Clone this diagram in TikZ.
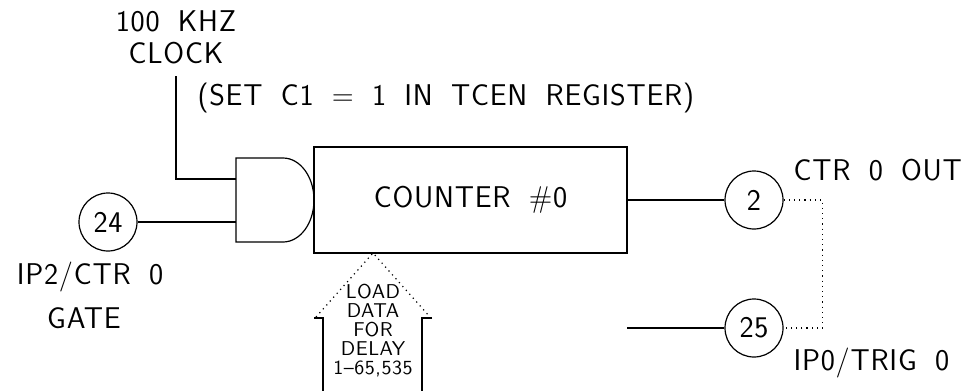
\documentclass[tikz,border=0pt]{standalone}
\usepackage{fontspec}
\setsansfont{Latin Modern Sans}[WordSpace=1.8,LetterSpace=2.5]
\usepackage{tikz}
\usetikzlibrary{positioning}

\begin{document}
\begin{tikzpicture}[x=0.5pt, y=-0.5pt, line width=0.6pt, font=\sffamily\fontsize{15}{16}\selectfont,
  pin/.style={draw,circle,minimum size=29pt,inner sep=0pt},
  lbl/.style={inner sep=0pt}]
  \useasboundingbox (0,0) rectangle (967,391);
  \node[draw,minimum width=156.5pt,minimum height=53pt] (cnt) at (470.5,200) {COUNTER \#0};
  \coordinate (gin1) at (236,179);
  \coordinate (gin2) at (236,222);
  \draw (236,158) -- (283,158) arc[start angle=-90,end angle=90,x radius=31,y radius=42] -- (236,242) -- cycle;

  \node[pin] (p24) at (108,222) {24};
  \node[pin] (p2) at (754,200) {2};
  \node[pin] (p25) at (754,328) {25};

  \node[lbl,align=center] (clk) at (176,37) {100 KHZ\\CLOCK};
  \node[lbl,anchor=west] (tcen) at (197,98) {(SET C1 = 1 IN TCEN REGISTER)};
  \node[lbl,anchor=west] (out) at (793,170) {CTR 0 OUT};
  \node[lbl,anchor=west] (trig) at (793,363) {IP0/TRIG 0};
  \node[lbl] (gate1) at (90,277) {IP2/CTR 0};
  \node[lbl,below=7pt of gate1,xshift=-3pt] (gate2) {GATE};

  \draw ([yshift=-6pt]clk.south) |- (gin1);
  \draw (p24) -- (gin2);
  \draw (cnt.east) -- (p2);
  \coordinate (trigin) at (627,328);
  \draw (trigin) -- (p25);
  \draw[dotted] (p2.east) -- ++(39,0) |- (p25.east);

  \coordinate (tip) at (373,253);
  \draw[dotted] (316,317) -- (tip) -- (430,317);
  \draw (314,318) -- (323,318) -- (323,391);
  \draw (432,318) -- (422,318) -- (422,391);
  \node[lbl,font=\sffamily\fontsize{10}{9.5}\selectfont,align=center] (load) at (373,331) {LOAD\\DATA\\FOR\\DELAY\\1--65,535};
\end{tikzpicture}
\end{document}
